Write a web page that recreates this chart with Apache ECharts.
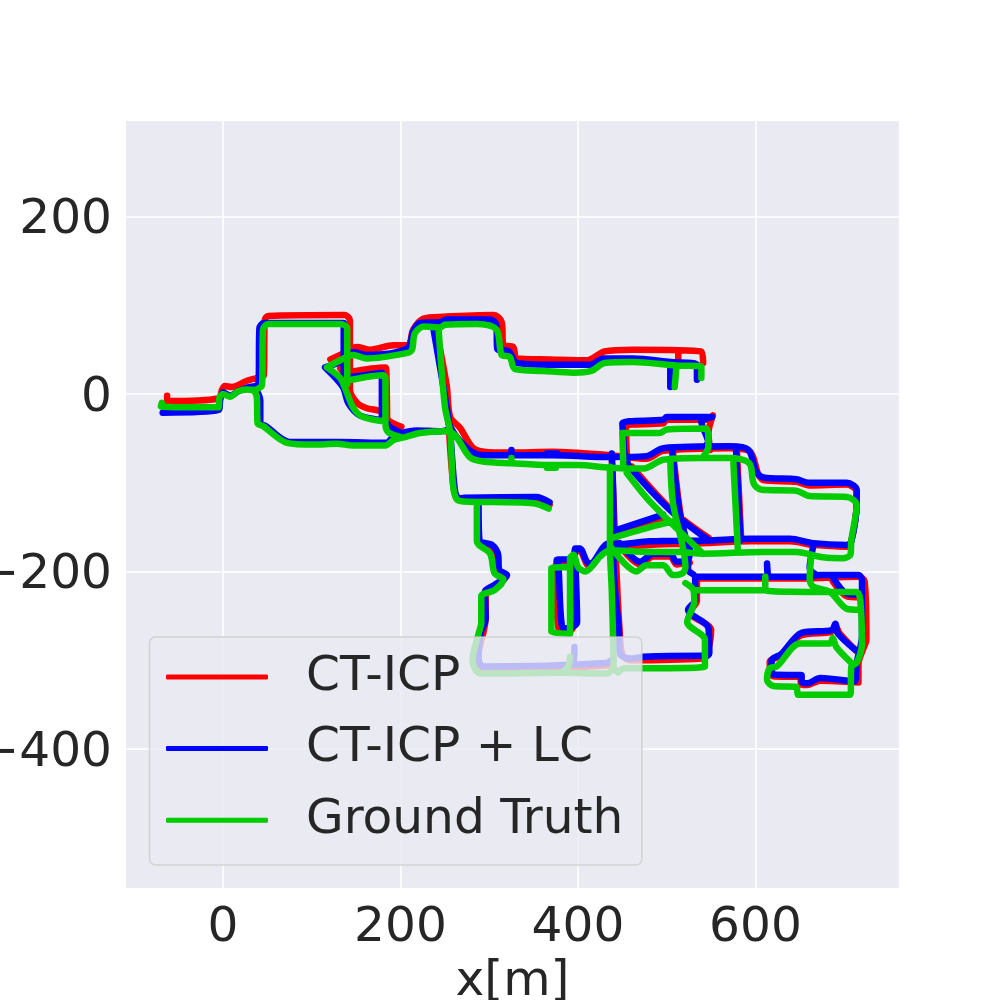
<!DOCTYPE html>
<html>
<head>
<meta charset="utf-8">
<style>html,body{margin:0;padding:0;background:#fff}#c{width:1000px;height:1000px}</style>
<script src="https://cdn.jsdelivr.net/npm/echarts@6/dist/echarts.min.js"></script>
</head>
<body>
<div id="c"></div>
<script>
const xTicks = [0, 200, 400, 600];
const yTicks = [-400, -200, 0, 200];
const seriesNames = ['CT-ICP', 'CT-ICP + LC', 'Ground Truth'];
const seriesColors = ['#ff0000', '#0000ff', '#00cc00'];

const redTrack = [
 [[-63,-2],[-63,-8],[-5,-5],[-1,5],[2,9],[10,8],[27,15],[38,18],[46,21],[47,83],[51,88],[137,89],[143,83],[143,52],[143,25],[143,5],[151,-10],[162,-16],[179,-20],[185,-29],[201,-37]],
 [[121,39],[136,46],[151,53],[166,50],[192,55],[209,55],[214,72],[226,85],[248,87],[305,89],[314,81],[316,55],[327,53],[331,40],[368,39],[410,38],[430,48],[462,50],[539,48],[541,35]],
 [[513,47],[513,38]],
 [[132,29],[143,15]],
 [[143,25],[183,30],[184,27],[185,-29]],
 [[240,74],[252,10],[256,-26],[267,-38],[281,-60],[294,-65],[323,-66],[372,-65],[436,-69],[477,-73],[496,-64],[571,-61],[594,-65],[603,-90],[609,-97],[646,-99],[660,-103],[703,-102],[714,-110],[714,-123],[708,-166],[703,-172],[665,-170],[639,-166],[594,-166],[545,-168],[481,-170],[439,-173],[429,-175],[414,-194],[410,-192],[402,-177],[397,-177],[395,-188],[376,-189],[375,-196],[378,-264],[389,-268],[396,-259],[393,-193]],
 [[455,-71],[454,-36],[496,-33],[500,-29],[547,-29],[552,-24],[547,-44],[549,-63]],
 [[461,-82],[506,-131],[547,-162]],
 [[438,-159],[497,-140]],
 [[447,-171],[470,-192],[485,-183],[504,-183],[511,-192],[526,-190]],
 [[507,-65],[515,-132],[525,-183]],
 [[579,-63],[584,-166]],
 [[534,-208],[607,-208],[662,-208],[678,-207],[716,-206],[723,-211],[725,-277],[721,-288],[716,-304],[716,-325],[673,-323],[658,-328],[651,-327],[651,-319],[620,-318],[616,-302],[628,-295],[651,-272],[686,-268],[690,-261],[695,-270],[714,-290]],
 [[287,-127],[287,-165],[301,-171],[309,-183],[310,-201],[318,-207],[306,-217],[296,-224],[296,-252],[287,-300],[293,-310],[432,-306],[440,-300]],
 [[438,-69],[443,-192],[447,-268],[450,-294],[459,-300],[539,-298],[545,-294],[550,-266],[526,-246],[534,-233],[534,-208]],
 [[687,-211],[703,-228],[718,-229]],
 [[255,-46],[260,-107],[264,-116],[273,-119],[353,-119],[368,-125]]
];

const blueTrack = [
 [[-68,-21],[-5,-18],[-3,-6],[0,2],[8,-2],[17,3],[27,7],[40,12],[41,74],[46,80],[136,80],[136,19],[136,9]],
 [[36,7],[42,-7],[42,-33],[48,-36],[75,-54],[101,-54],[132,-54],[184,-55],[192,-48],[201,-44],[218,-41],[245,-42],[254,-40]],
 [[115,30],[136,38],[147,47],[162,44],[207,51],[215,72],[222,80],[245,81],[252,84],[301,84],[308,78],[309,51],[322,48],[331,35],[368,33],[414,33],[429,40],[462,40],[504,36],[534,33],[534,16]],
 [[504,33],[504,8]],
 [[115,30],[135,8],[141,-10],[154,-24],[183,-31],[188,-37],[201,-44]],
 [[143,19],[179,24],[179,-26]],
 [[237,74],[252,-14],[256,-44],[261,-106],[265,-118],[272,-117],[353,-116],[368,-122]],
 [[254,-33],[263,-48],[280,-65],[294,-69],[323,-69],[372,-69],[436,-71],[477,-70],[496,-61],[571,-59],[592,-63],[601,-88],[609,-94],[646,-96],[660,-100],[703,-100],[714,-108],[714,-123],[708,-166],[703,-170],[665,-168],[639,-163],[594,-163],[545,-165],[481,-166],[439,-170],[436,-168],[429,-172],[414,-191],[410,-189],[402,-174],[397,-174],[395,-186],[376,-187],[378,-195],[382,-262],[389,-264],[399,-257],[397,-190]],
 [[325,-63],[325,-69]],
 [[365,-67],[377,-67]],
 [[453,-74],[450,-33],[496,-29],[500,-26],[551,-26],[539,-31],[547,-56],[545,-57]],
 [[454,-72],[459,-83],[504,-131],[545,-163]],
 [[438,-67],[440,-131],[440,-191],[446,-266],[447,-292],[459,-298],[474,-296],[539,-295],[543,-296],[548,-292],[547,-264],[524,-243],[532,-232],[532,-206],[524,-198],[524,-187]],
 [[438,-155],[496,-136]],
 [[447,-168],[470,-189],[485,-180],[504,-180],[511,-189],[524,-187],[526,-175]],
 [[506,-63],[514,-131],[524,-181],[524,-189]],
 [[578,-61],[583,-165]],
 [[532,-206],[605,-206],[614,-206],[613,-191],[614,-206],[658,-206],[673,-204],[716,-204],[720,-210],[720,-273],[714,-303],[712,-324],[673,-320],[658,-326],[652,-324],[652,-317],[620,-316],[618,-300],[629,-293],[652,-269],[686,-266],[690,-259],[693,-270],[712,-288]],
 [[665,-172],[661,-196],[669,-204]],
 [[688,-208],[703,-225],[716,-226]],
 [[288,-127],[289,-165],[303,-170],[310,-181],[311,-198],[320,-204],[306,-215],[295,-223],[296,-253],[290,-270],[288,-298],[293,-307],[432,-303],[440,-298]],
 [[396,-285],[395,-302],[389,-307]]
];

const greenTrack = [
 [[-69,-10],[-70,-14],[-5,-15],[-4,-4],[0,0],[8,-3],[17,3],[27,5],[34,4],[38,-3],[39,-33],[45,-36],[72,-55],[102,-57],[128,-56],[147,-58],[183,-58],[192,-52],[207,-48],[222,-44],[248,-42],[261,-46],[278,-71],[293,-76],[325,-78],[368,-80],[399,-80],[436,-83],[474,-84],[496,-74],[537,-72],[571,-72],[593,-78],[598,-101],[607,-108],[646,-109],[661,-115],[703,-116],[714,-125],[708,-165],[707,-181],[699,-185],[676,-184],[646,-178],[609,-178],[541,-180],[515,-178],[481,-178],[436,-176],[425,-183],[408,-200],[400,-195],[395,-181],[391,-185],[391,-270],[370,-268],[370,-196],[391,-195]],
 [[34,4],[44,10],[45,72],[51,79],[132,79],[140,74],[140,16],[140,11]],
 [[145,16],[181,21],[183,18],[183,-33],[186,-43],[199,-48]],
 [[117,30],[132,38],[147,44],[162,40],[207,46],[213,50],[216,68],[226,76],[245,75],[250,78],[286,79],[308,73],[314,44],[323,42],[329,28],[361,26],[395,24],[415,26],[430,35],[462,36],[511,32],[539,31],[539,18]],
 [[511,32],[509,8]],
 [[117,30],[132,18],[139,3],[147,-16],[158,-26],[183,-31]],
 [[243,72],[250,-14],[256,-44],[259,-101],[263,-118],[271,-121],[350,-123],[367,-129]],
 [[286,-127],[286,-166],[301,-180],[306,-202],[316,-209],[306,-221],[291,-228],[291,-258],[288,-270],[281,-300],[290,-315],[383,-314],[432,-315],[440,-307],[438,-221],[436,-172],[436,-82]],
 [[325,-72],[325,-78]],
 [[365,-83],[375,-83]],
 [[451,-80],[450,-44],[492,-44],[500,-40],[545,-39],[547,-59],[541,-71]],
 [[455,-89],[481,-121],[541,-180]],
 [[436,-163],[481,-150],[509,-143]],
 [[504,-74],[507,-123],[521,-195],[518,-202],[507,-204],[496,-193],[477,-193],[466,-200],[436,-171]],
 [[575,-76],[580,-174]],
 [[521,-213],[530,-221],[531,-234],[523,-257],[543,-277],[543,-307],[481,-309],[451,-309],[445,-314],[440,-307]],
 [[530,-221],[605,-221],[611,-221],[611,-206],[611,-221],[684,-223],[714,-223],[718,-232],[720,-281],[714,-303],[708,-307],[707,-339],[658,-339],[648,-339],[646,-330],[620,-329],[613,-322],[616,-309],[624,-307],[650,-281],[684,-281],[687,-275],[691,-285],[708,-303]],
 [[663,-181],[661,-209],[665,-217],[684,-223],[703,-242],[716,-243]],
 [[391,-296],[389,-307],[383,-313]]
];

const tracks = [redTrack, blueTrack, greenTrack];

function joinSegments(segments) {
  const out = [];
  segments.forEach((s, i) => {
    if (i) out.push(['-', '-']);
    s.forEach(p => out.push(p));
  });
  return out;
}
const minus = v => String(v).replace('-', '\u2212');
const font = 'DejaVu Sans';
const ink = '#262626';

const chart = echarts.init(document.getElementById('c'), null, {renderer: 'canvas'});
chart.setOption({
  animation: false,
  backgroundColor: '#ffffff',
  grid: {left: 126, top: 121, width: 773, height: 767, show: true, backgroundColor: '#eaeaf2', borderWidth: 0, outerBoundsMode: 'none', containLabel: false},
  xAxis: {
    type: 'value', min: -109.3, max: 761.7,
    name: 'x[m]', nameLocation: 'middle', nameGap: 62,
    nameTextStyle: {fontFamily: font, fontSize: 48.6, color: ink},
    axisLine: {show: false},
    axisTick: {show: false, customValues: xTicks},
    axisLabel: {customValues: xTicks, fontFamily: font, fontSize: 48.6, color: ink, margin: 16, formatter: minus},
    splitLine: {show: true, lineStyle: {color: '#ffffff', width: 1.5}}
  },
  yAxis: {
    type: 'value', min: -556.6, max: 307.6,
    axisLine: {show: false},
    axisTick: {show: false, customValues: yTicks},
    axisLabel: {customValues: yTicks, fontFamily: font, fontSize: 48.6, color: ink, margin: 14, verticalAlign: 'top', lineHeight: 50, padding: [-21, 0, 0, 0], formatter: minus},
    splitLine: {show: true, lineStyle: {color: '#ffffff', width: 1.5}}
  },
  legend: {
    data: seriesNames, orient: 'vertical', left: 149.5, top: 637, z: 10,
    padding: [15.4, 18.5, 20.3, 16.5], itemGap: 22.7, itemWidth: 102, itemHeight: 5,
    icon: 'roundRect',
    backgroundColor: 'rgba(234,234,242,0.8)', borderColor: 'rgba(204,204,204,0.8)', borderWidth: 1.5, borderRadius: 6,
    textStyle: {fontFamily: font, fontSize: 48.6, color: ink, lineHeight: 71.3, verticalAlign: 'top', padding: [-27.2, 0, 0, 33]}
  },
  series: seriesNames.map((name, i) => ({
    name, type: 'line', data: joinSegments(tracks[i]),
    showSymbol: false, symbol: 'none', connectNulls: false, smooth: 0.3,
    color: seriesColors[i],
    lineStyle: {color: seriesColors[i], width: 6.5, cap: 'round', join: 'round'},
    emphasis: {disabled: true}, silent: true, z: 2
  }))
});
</script>
</body>
</html>
